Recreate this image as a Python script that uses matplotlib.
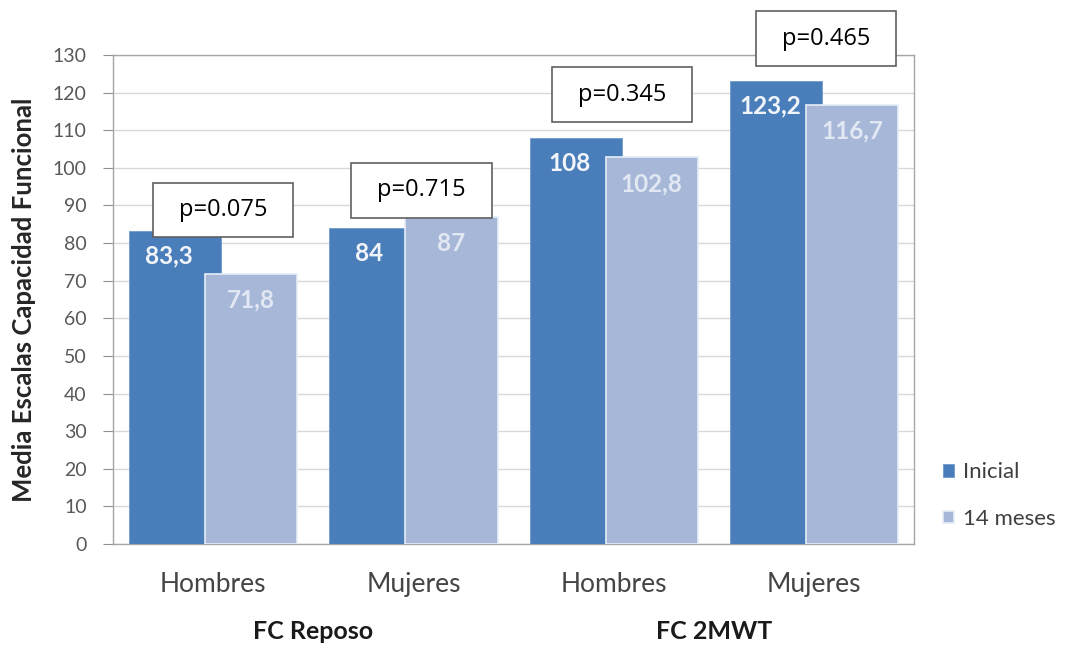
import matplotlib
matplotlib.use("Agg")
import matplotlib.pyplot as plt
from matplotlib.patches import Rectangle

plt.rcParams['font.family'] = ['Lato', 'DejaVu Sans']

# Data
categories = ["Hombres", "Mujeres", "Hombres", "Mujeres"]
groups = ["FC Reposo", "FC 2MWT"]
inicial = [83.3, 84, 108, 123.2]
meses14 = [71.8, 87, 102.8, 116.7]
p_values = ["p=0.075", "p=0.715", "p=0.345", "p=0.465"]
series_names = ["Inicial", "14 meses"]
yticks = list(range(0, 131, 10))

# Styling / layout
c_dark = "#4A7EBB"
c_light = "#A6B7D7"
p_box_x = [0.05, 1.04, 2.04, 3.06]     # centre of each p-value box (data units)
p_box_y = [88.8, 94.1, 119.4, 134.3]
box_w, box_h = 0.70, 14.6

fig = plt.figure(figsize=(10.71, 6.48), dpi=100)
ax = fig.add_axes([0.1055, 0.1605, 0.748, 0.7546])

x = list(range(len(categories)))
off, w = 0.19, 0.46
b1 = ax.bar([i - off for i in x], inicial, width=w, color=c_dark,
            edgecolor="#6f9bd0", linewidth=0.6, zorder=3, label=series_names[0])
b2 = ax.bar([i + off for i in x], meses14, width=w, color=c_light,
            edgecolor="#e6edf7", linewidth=1.2, zorder=4, label=series_names[1])

def fmt(v):
    return f"{v:g}".replace(".", ",")

for i, v in enumerate(inicial):
    ax.text(i - off - 0.03, v - 6.8, fmt(v), ha="center", va="center",
            color="white", fontsize=17.5, fontweight="bold", zorder=6,
            alpha=0.93)
for i, v in enumerate(meses14):
    ax.text(i + off, v - 7.0, fmt(v), ha="center", va="center",
            color="#e9eef7", fontsize=17.5, fontweight="bold", zorder=6,
            alpha=0.9)

# p-value boxes
for txt, xc, yc in zip(p_values, p_box_x, p_box_y):
    r = Rectangle((xc - box_w / 2, yc - box_h / 2), box_w, box_h,
                  facecolor="white", edgecolor="#606060", linewidth=1.2,
                  zorder=8, clip_on=False)
    ax.add_patch(r)
    ax.text(xc, yc, txt, ha="center", va="center", fontsize=17,
            color="black", zorder=9, clip_on=False,
            family=['Open Sans', 'DejaVu Sans'])

ax.set_xlim(-0.5, 3.5)
ax.set_ylim(0, 130)
ax.set_yticks(yticks)
ax.set_yticklabels([str(t) for t in yticks], fontsize=14, color="#595959")
ax.set_xticks(x)
ax.set_xticklabels(categories, fontsize=19, color="#454545")
ax.tick_params(axis="x", length=0, pad=20)
ax.tick_params(axis="y", length=7, color="#909090", pad=12)

ax.grid(axis="y", color="#d9d9d9", linewidth=1.0, zorder=0)
for s in ax.spines.values():
    s.set_color("#a6a6a6")
    s.set_linewidth(1.0)

ax.set_ylabel("Media Escalas Capacidad Funcional", fontsize=18.5,
              fontweight="bold", color="#262626", labelpad=12)

# Group labels
for gi, g in enumerate(groups):
    ax.text(gi * 2 + 0.5, -0.178, g, transform=ax.get_xaxis_transform(),
            ha="center", va="center", fontsize=18, fontweight="bold",
            color="#1a1a1a")

leg = fig.legend(handles=[b1, b2], labels=series_names,
                 loc="center left", bbox_to_anchor=(0.876, 0.235),
                 frameon=False, fontsize=16, handlelength=0.5,
                 handleheight=0.5, handletextpad=0.4, labelspacing=1.2,
                 labelcolor="#404040", borderaxespad=0, borderpad=0.2)

fig.savefig("out.png", dpi=100, facecolor="white")
